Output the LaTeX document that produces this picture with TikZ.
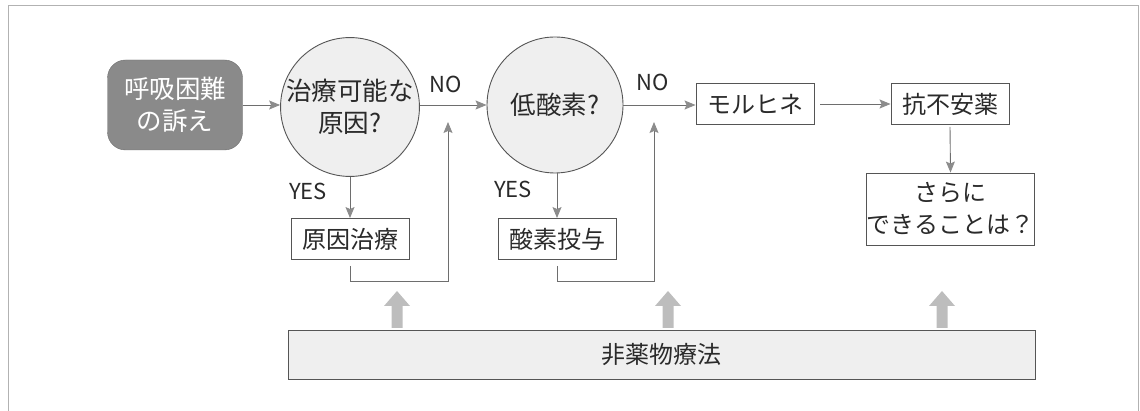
\documentclass[tikz,border=0pt]{standalone}
\usepackage{fontspec}
\setmainfont{Noto Sans CJK JP}
\usetikzlibrary{arrows.meta}
\definecolor{linec}{HTML}{6E6E6E}
\definecolor{tipc}{HTML}{8C8C8C}
\definecolor{boxc}{HTML}{555555}
\definecolor{lightf}{HTML}{EFEFEF}
\definecolor{darkf}{HTML}{8A8A8A}
\definecolor{txt}{HTML}{2A2A2A}
\definecolor{blockc}{HTML}{BDBDBD}
\tikzset{
  arr/.style={draw=linec, line width=0.9pt, -{Stealth[length=11pt,width=9pt,inset=2pt,color=tipc]}},
  plainbox/.style={draw=boxc, line width=0.9pt, fill=white, minimum width=118pt, minimum height=41pt, inner sep=0pt, text=txt, font=\fontsize{24}{28}\selectfont},
  decision/.style={circle, draw=boxc, line width=0.9pt, fill=lightf, minimum size=136pt, inner sep=0pt, text=txt, font=\fontsize{25.5}{32}\selectfont, align=center},
  startbox/.style={rounded corners=18pt, draw=darkf!80!black, fill=darkf, minimum width=135pt, minimum height=90pt, text=white, font=\fontsize{25.5}{32}\selectfont, align=center},
  lbl/.style={text=txt, font=\fontsize{22}{26}\selectfont, inner sep=0pt},
  blockfill/.style={fill=blockc, draw=none},
}
\begin{document}
\begin{tikzpicture}[x=1pt,y=-1pt]
\useasboundingbox (0,0) rectangle (1140,411);
\draw[draw=gray!60, line width=0.8pt] (8,411) -- (8,5) -- (1138,5) -- (1138,411);

\node[startbox] (start) at (175,105) {呼吸困難\\の訴え};
\node[decision] (c1) at (350,107) {治療可能な\\原因?};
\node[decision] (c2) at (555,105) {低酸素?};
\node[plainbox] (mor) at (755,104) {モルヒネ};
\node[plainbox] (anx) at (950,104) {抗不安薬};
\node[plainbox, minimum width=167pt, minimum height=72pt, align=center, font=\fontsize{24}{32}\selectfont] (more) at (950.5,209) {さらに\\できることは？};
\node[plainbox] (cause) at (350,239) {原因治療};
\node[plainbox] (oxy) at (557,239) {酸素投与};
\node[plainbox, fill=lightf, minimum width=747pt, minimum height=49pt] (nd) at (661.5,354.5) {非薬物療法};

\node[lbl] (no1) at (446,84) {NO};
\node[lbl] (no2) at (653,82) {NO};
\node[lbl] (yes1) at (308,191) {YES};
\node[lbl] (yes2) at (513,189) {YES};

\draw[arr] (start.east) -- (start.east -| c1.west);
\draw[arr] (c1.east |- c2.west) -- (c2.west);
\draw[arr] (c2.east) -- (c2.east -| mor.west);
\draw[arr] (mor.east) ++(6,0) coordinate (m1) (m1) -- (anx.west);
\draw[arr] (anx.south) ++(0,2) coordinate (a1) (a1) -- (more.north);
\draw[arr] (c1.south) -- (cause.north);
\draw[arr] (c2.south -| oxy.north) -- (oxy.north);

\coordinate (l1) at (448,281);
\coordinate (t1) at (448,122);
\coordinate (l2) at (654,281);
\coordinate (t2) at (654,122);
\draw[arr, shorten <=6pt] (cause.south) |- (l1) -- (t1);
\draw[arr, shorten <=6pt] (oxy.south) |- (l2) -- (t2);

\coordinate (b1) at (397,328);
\coordinate (b2) at (668,328);
\coordinate (b3) at (942,328);
\foreach \b in {b1,b2,b3}{
  \fill[blockfill] (\b) ++(-5.5,0) -- ++(0,-22) -- ++(-7.5,0) -- ++(13,-15) -- ++(13,15) -- ++(-7.5,0) -- ++(0,22) -- cycle;
}
\end{tikzpicture}
\end{document}
